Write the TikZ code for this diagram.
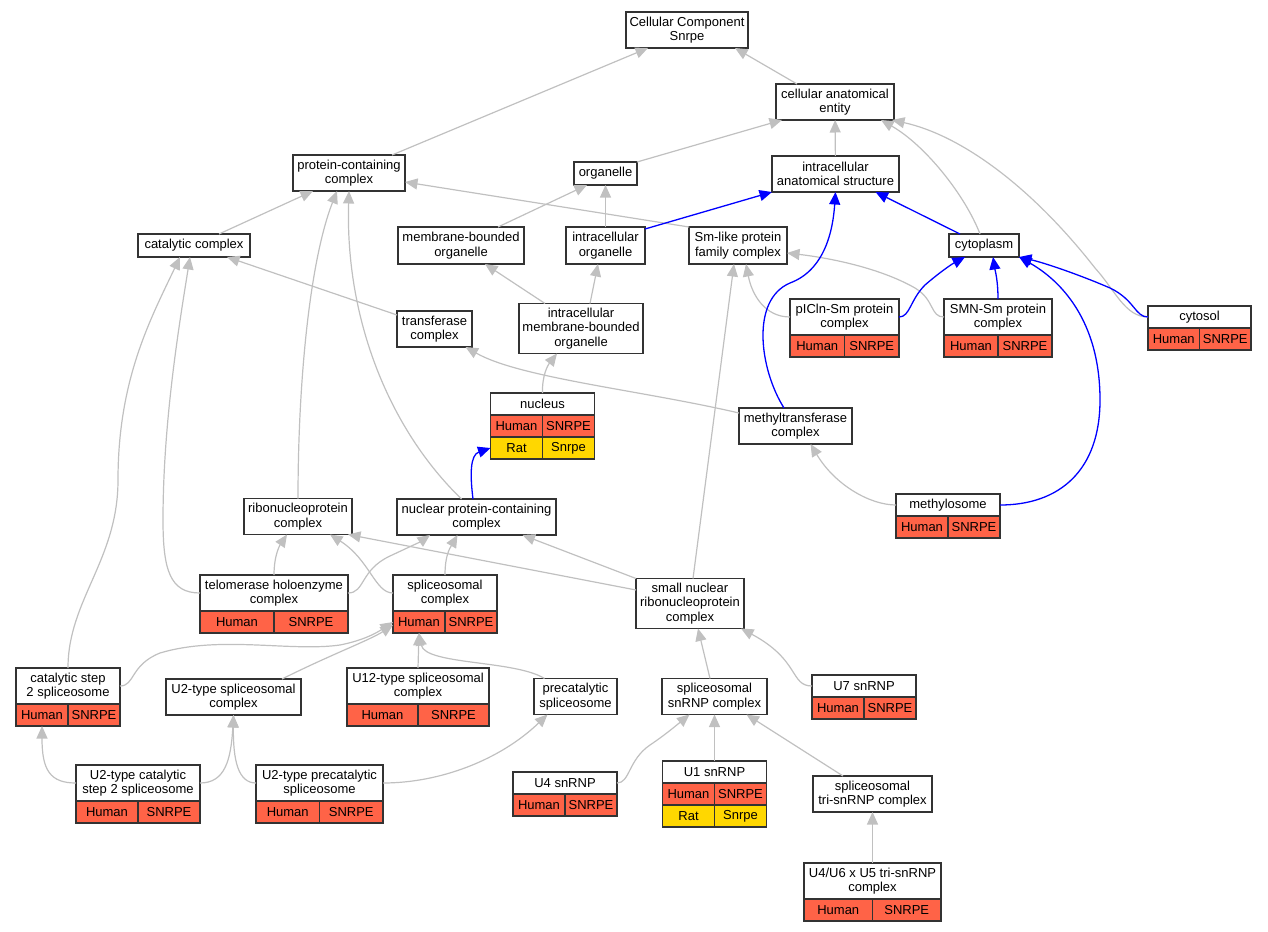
\documentclass[tikz,border=0pt]{standalone}
\usepackage{fontspec}
\setmainfont{Liberation Sans}
\usetikzlibrary{arrows.meta}
\definecolor{hum}{HTML}{FF6347}
\definecolor{rat}{HTML}{FFD700}
\definecolor{isagray}{HTML}{C0C0C0}
\newcommand{\gofont}{\fontsize{13}{14.5}\selectfont}
% one row of two cells under a node: name, node above, cell width, colour, species, gene
\newcommand{\generow}[6]{%
  \node[cell, fill=#4, minimum width=#3, anchor=north west] (#1a) at (#2.south west) {#5};
  \node[cell, fill=#4, minimum width=#3, anchor=north west] (#1b) at (#1a.north east) {#6};}

\begin{document}
\begin{tikzpicture}[x=1pt,y=-1pt,>={Triangle[length=12.5pt,width=11pt]},
  term/.style={draw=black!80,line width=1.3pt,fill=white,align=center,inner sep=1pt,outer sep=0pt,font=\gofont},
  cell/.style={draw=black!80,line width=1.3pt,minimum height=22,inner sep=0pt,outer sep=0pt,font=\gofont},
  isa/.style={->,draw=isagray,line width=1.2pt},
  partof/.style={->,draw=blue,line width=1.3pt}]
  \useasboundingbox (0,0) rectangle (1268,931);
  %terms
  \node[term, minimum width=122, minimum height=36] (cc) at (687,30) {Cellular Component\\Snrpe};
  \node[term, minimum width=118, minimum height=36] (cae) at (835,102) {cellular anatomical\\entity};
  \node[term, minimum width=112, minimum height=36] (pcc) at (349,173) {protein-containing\\complex};
  \node[term, minimum width=63, minimum height=23] (org) at (605.5,173.5) {organelle};
  \node[term, minimum width=127, minimum height=36] (ias) at (835.5,174) {intracellular\\anatomical structure};
  \node[term, minimum width=112, minimum height=23] (cat) at (194,245.5) {catalytic complex};
  \node[term, minimum width=126, minimum height=37] (mbo) at (461,245.5) {membrane-bounded\\organelle};
  \node[term, minimum width=79, minimum height=37] (io) at (605.5,245.5) {intracellular\\organelle};
  \node[term, minimum width=98, minimum height=37] (sml) at (738,245.5) {Sm-like protein\\family complex};
  \node[term, minimum width=70, minimum height=23] (cyto) at (984,245.5) {cytoplasm};
  \node[term, minimum width=75, minimum height=36] (trans) at (434.5,329) {transferase\\complex};
  \node[term, minimum width=124, minimum height=50] (imbo) at (581,328.5) {intracellular\\membrane-bounded\\organelle};
  \node[term, minimum width=113, minimum height=36] (mtc) at (795.5,426) {methyltransferase\\complex};
  \node[term, minimum width=108, minimum height=36] (rnp) at (298,516.5) {ribonucleoprotein\\complex};
  \node[term, minimum width=159, minimum height=36] (npc) at (476.5,517) {nuclear protein-containing\\complex};
  \node[term, minimum width=108, minimum height=50] (snrnp) at (690,603.5) {small nuclear\\ribonucleoprotein\\complex};
  \node[term, minimum width=135, minimum height=36] (u2s) at (233.5,697) {U2-type spliceosomal\\complex};
  \node[term, minimum width=83, minimum height=36] (precat) at (575.5,696.5) {precatalytic\\spliceosome};
  \node[term, minimum width=105, minimum height=36] (ssnrnp) at (714.5,696.5) {spliceosomal\\snRNP complex};
  \node[term, minimum width=119, minimum height=36] (tri) at (872.5,794) {spliceosomal\\tri-snRNP complex};
  %terms with genes
  \node[term, anchor=north west, minimum width=109, minimum height=36] (pic) at (790,299) {pICln-Sm protein\\complex};
  \generow{pich}{pic}{54.5}{hum}{Human}{SNRPE}
  \node[term, anchor=north west, minimum width=108, minimum height=36] (smn) at (944,299) {SMN-Sm protein\\complex};
  \generow{smnh}{smn}{54}{hum}{Human}{SNRPE}
  \node[term, anchor=north west, minimum width=103, minimum height=22] (cyt) at (1148,306) {cytosol};
  \generow{cyth}{cyt}{51.5}{hum}{Human}{SNRPE}
  \node[term, anchor=north west, minimum width=104, minimum height=22] (nuc) at (490.5,393) {nucleus};
  \generow{nuch}{nuc}{52}{hum}{Human}{SNRPE}
  \generow{nucr}{nucha}{52}{rat}{Rat}{Snrpe}
  \node[term, anchor=north west, minimum width=104, minimum height=22] (mls) at (896,494) {methylosome};
  \generow{mlsh}{mls}{52}{hum}{Human}{SNRPE}
  \node[term, anchor=north west, minimum width=148, minimum height=36] (telo) at (200,575) {telomerase holoenzyme\\complex};
  \generow{teloh}{telo}{74}{hum}{Human}{SNRPE}
  \node[term, anchor=north west, minimum width=104, minimum height=36] (spl) at (393,575) {spliceosomal\\complex};
  \generow{splh}{spl}{52}{hum}{Human}{SNRPE}
  \node[term, anchor=north west, minimum width=104, minimum height=36] (cs2) at (16,668) {catalytic step\\2 spliceosome};
  \generow{cs2h}{cs2}{52}{hum}{Human}{SNRPE}
  \node[term, anchor=north west, minimum width=142, minimum height=36] (u12) at (347,668) {U12-type spliceosomal\\complex};
  \generow{u12h}{u12}{71}{hum}{Human}{SNRPE}
  \node[term, anchor=north west, minimum width=124, minimum height=36] (u2c) at (76,765) {U2-type catalytic\\step 2 spliceosome};
  \generow{u2ch}{u2c}{62}{hum}{Human}{SNRPE}
  \node[term, anchor=north west, minimum width=127, minimum height=36] (u2p) at (256,765) {U2-type precatalytic\\spliceosome};
  \generow{u2ph}{u2p}{63.5}{hum}{Human}{SNRPE}
  \node[term, anchor=north west, minimum width=104, minimum height=22] (u7) at (812,675) {U7 snRNP};
  \generow{u7h}{u7}{52}{hum}{Human}{SNRPE}
  \node[term, anchor=north west, minimum width=104, minimum height=22] (u4) at (513,772) {U4 snRNP};
  \generow{u4h}{u4}{52}{hum}{Human}{SNRPE}
  \node[term, anchor=north west, minimum width=104, minimum height=22] (u1) at (662.5,761) {U1 snRNP};
  \generow{u1h}{u1}{52}{hum}{Human}{SNRPE}
  \generow{u1r}{u1ha}{52}{rat}{Rat}{Snrpe}
  \node[term, anchor=north west, minimum width=137, minimum height=36] (u46) at (804,863) {U4/U6 x U5 tri-snRNP\\complex};
  \generow{u46h}{u46}{68.5}{hum}{Human}{SNRPE}
  %is_a
  \draw[isa] ([xshift=43pt]pcc.north) -- ([xshift=-39pt]cc.south);
  \draw[isa] ([xshift=-38pt]cae.north) -- ([xshift=48pt]cc.south);
  \draw[isa] (org.north east) -- ([xshift=-53pt]cae.south);
  \draw[isa] (ias) -- (cae);
  \draw[isa] ([xshift=-4pt]cyto.north) .. controls (965,195) and (925,145) .. ([xshift=46pt]cae.south);
  \draw[isa] (cyt.west) .. controls (1125,317) and (1115,290) .. (1095,268) .. controls (1030,185) and (960,135) .. ([xshift=-2pt]cae.south east);
  \draw[isa] ([xshift=25pt]cat.north) -- ([xshift=-36pt]pcc.south);
  \draw[isa] (rnp.north) .. controls (298,380) and (310,260) .. ([xshift=-12pt]pcc.south);
  \draw[isa] ([xshift=-15pt]npc.north) .. controls (390,430) and (345,320) .. (pcc.south);
  \draw[isa] (sml.north west) -- ([yshift=-9pt]pcc.east);
  \draw[isa] ([xshift=37pt]mbo.north) -- ([xshift=-18.5pt]org.south);
  \draw[isa] (io) -- (org);
  \draw[isa] ([xshift=-36pt]imbo.north) -- ([xshift=24pt]mbo.south);
  \draw[isa] ([xshift=9pt]imbo.north) -- ([xshift=-7.5pt]io.south);
  \draw[isa] ([yshift=-4pt]trans.north west) -- ([xshift=33pt]cat.south);
  \draw[isa] (telo.west) .. controls (170,593) and (163,570) .. (163,520) .. controls (163,420) and (180,320) .. ([xshift=-4pt]cat.south);
  \draw[isa] (cs2.north) .. controls (68,600) and (118,560) .. (118,480) .. controls (118,380) and (150,320) .. ([xshift=-14pt]cat.south);
  \draw[isa] ([yshift=13pt]mtc.west) .. controls (640,390) and (520,378) .. ([xshift=31pt]trans.south);
  \draw[isa] (nuc.north) .. controls (542,375) and (548,365) .. ([xshift=-24pt]imbo.south);
  \draw[isa] (smn.west) .. controls (930,317) and (935,300) .. (915,288) .. controls (880,268) and (830,258) .. ([yshift=-7.5pt]sml.east);
  \draw[isa] (pic.west) .. controls (765,317) and (752,295) .. ([xshift=8pt]sml.south);
  \draw[isa] ([xshift=3pt]snrnp.north) -- ([xshift=-4pt]sml.south);
  \draw[isa] (mls.west) .. controls (870,505) and (835,485) .. ([xshift=15pt]mtc.south);
  \draw[isa] (telo.north) .. controls (274,555) and (280,545) .. ([xshift=-11pt]rnp.south);
  \draw[isa] (telo.east) .. controls (365,593) and (360,570) .. (390,556) .. controls (405,549) and (420,542) .. ([xshift=-46.5pt]npc.south);
  \draw[isa] (spl.west) .. controls (375,593) and (370,560) .. ([xshift=32pt]rnp.south);
  \draw[isa] (spl.north) .. controls (445,555) and (450,548) .. ([xshift=-19pt]npc.south);
  \draw[isa] ([yshift=13.5pt]snrnp.west) -- ([xshift=50pt]rnp.south);
  \draw[isa] (snrnp.north west) -- ([xshift=46pt]npc.south);
  \draw[isa] (cs2.east) .. controls (135,686) and (130,665) .. (160,653) .. controls (220,635) and (290,652) .. (340,645) .. controls (365,640) and (378,632) .. (splha.west);
  \draw[isa] ([xshift=48.5pt]u2s.north) .. controls (330,655) and (370,640) .. ([yshift=-3pt]splha.west);
  \draw[isa] (u12.north) -- (splha.south);
  \draw[isa] ([xshift=-31pt]precat.north) .. controls (515,660) and (425,665) .. (splha.south);
  \draw[isa] (u2c.west) .. controls (50,783) and (42,770) .. (cs2ha.south);
  \draw[isa] (u2c.east) .. controls (225,783) and (231,760) .. (u2s.south);
  \draw[isa] (u2p.west) .. controls (238,783) and (233,760) .. (u2s.south);
  \draw[isa] (u2p.east) .. controls (440,783) and (500,760) .. ([xshift=-28pt]precat.south);
  \draw[isa] ([xshift=-4.5pt]ssnrnp.north) -- ([xshift=8pt]snrnp.south);
  \draw[isa] (u7.west) .. controls (790,686) and (800,660) .. ([xshift=51pt]snrnp.south);
  \draw[isa] (u4.east) .. controls (630,783) and (628,760) .. (650,745) .. controls (665,735) and (678,724) .. ([xshift=-25pt]ssnrnp.south);
  \draw[isa] (u1.north) -- (ssnrnp.south);
  \draw[isa] ([xshift=-29.5pt]tri.north) -- ([xshift=32pt]ssnrnp.south);
  \draw[isa] (u46.north) -- (tri.south);
  %part_of
  \draw[partof] ([yshift=-2pt]io.north east) -- (ias.south west);
  \draw[partof] ([xshift=-11.5pt]mtc.north) .. controls (760,370) and (750,300) .. (790,283) .. controls (825,270) and (833,230) .. (ias.south);
  \draw[partof] ([xshift=-24pt]cyto.north) -- ([xshift=40pt]ias.south);
  \draw[partof] ([xshift=-3.5pt]npc.north) .. controls (470,475) and (470,455) .. (nucra.west);
  \draw[partof] (pic.east) .. controls (910,317) and (910,300) .. (925,285) .. controls (940,272) and (952,264) .. ([xshift=-19pt]cyto.south);
  \draw[partof] (smn.north) .. controls (998,280) and (995,270) .. ([xshift=9pt]cyto.south);
  \draw[partof] (mls.east) .. controls (1060,505) and (1100,470) .. (1100,400) .. controls (1100,320) and (1060,280) .. (cyto.south east);
  \draw[partof] (cyt.west) .. controls (1135,317) and (1135,300) .. (1110,288) .. controls (1080,275) and (1045,263) .. (cyto.south east);
\end{tikzpicture}
\end{document}
